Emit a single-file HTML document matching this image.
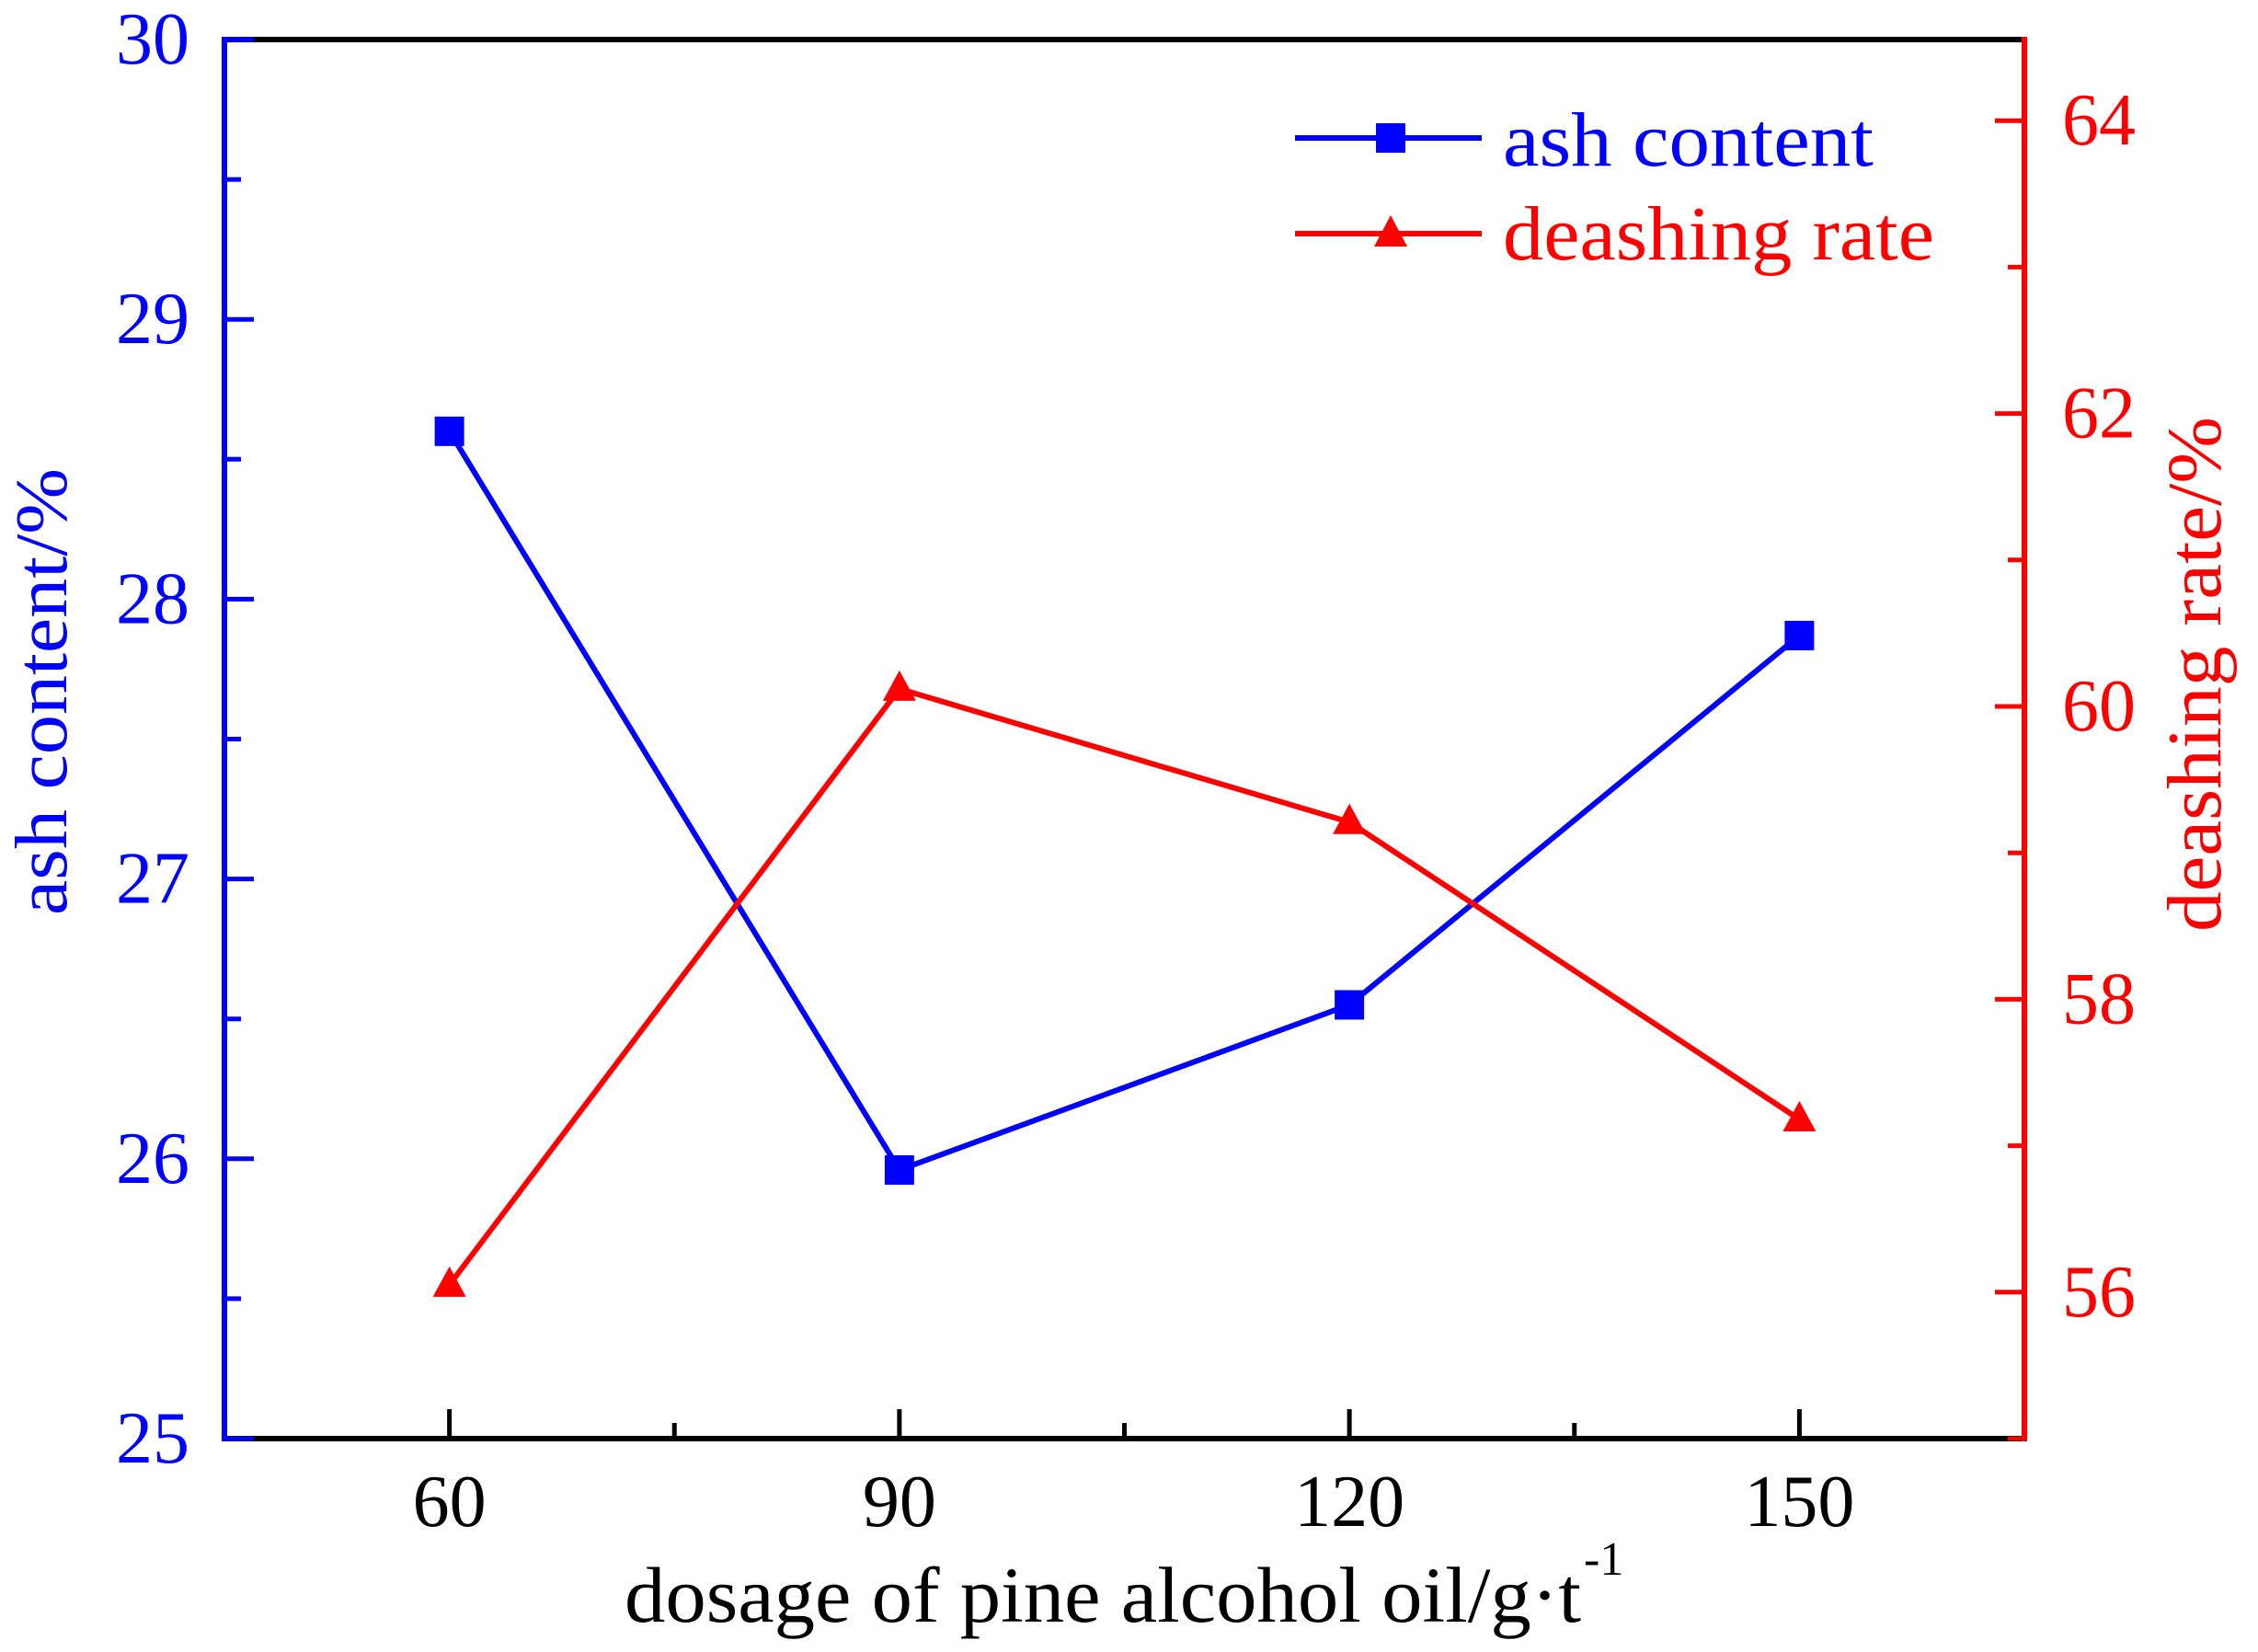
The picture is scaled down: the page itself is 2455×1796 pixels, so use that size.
<!DOCTYPE html>
<html><head><meta charset="utf-8"><style>
html,body{margin:0;padding:0;background:#fff}
svg{display:block}
text{font-family:"Liberation Serif",serif}
</style></head><body>
<svg id="chart" width="2455" height="1796" viewBox="0 0 2455 1796" xmlns="http://www.w3.org/2000/svg"></svg>
<script>
const categories = [60, 90, 120, 150];
const ashContent = [28.60, 25.96, 26.55, 27.87];
const deashingRate = [56.05, 60.12, 59.21, 57.18];
const xTickLabels = ["60", "90", "120", "150"];
const leftTickLabels = ["25", "26", "27", "28", "29", "30"];
const rightTickLabels = ["56", "58", "60", "62", "64"];

const L = 244, R = 2201, T = 43, B = 1564;
const xS = v => L + (v - 45) * (R - L) / 120;
const yL = v => B - (v - 25) * (B - T) / 5;
const yR = v => B - (v - 55) * 159.2;
const svg = document.getElementById('chart');
const NS = 'http://www.w3.org/2000/svg';
function mk(tag, attrs, parent) {
  const e = document.createElementNS(NS, tag);
  for (const k in attrs) e.setAttribute(k, attrs[k]);
  (parent || svg).appendChild(e);
  return e;
}
function txt(s, attrs, name) {
  const e = mk('text', attrs);
  e.textContent = s;
  
  
  return e;
}
let e;
e = mk('line', {x1: L, y1: T, x2: R, y2: T, stroke: '#000', 'stroke-width': 6});
 
e = mk('line', {x1: L, y1: B, x2: R, y2: B, stroke: '#000', 'stroke-width': 6});
 
e = mk('line', {x1: L, y1: T - 3, x2: L, y2: B + 3, stroke: '#0000ff', 'stroke-width': 6});
 
e = mk('line', {x1: R, y1: T - 3, x2: R, y2: B + 3, stroke: '#ff0000', 'stroke-width': 6});
 

categories.forEach((c, i) => {
  const t = mk('line', {x1: xS(c), y1: B, x2: xS(c), y2: B - 32, stroke: '#000', 'stroke-width': 5});
   
  txt(xTickLabels[i], {x: xS(c), y: 1659, 'font-size': 80, 'text-anchor': 'middle', fill: '#000'}, 'x-tick-label');
});
[75, 105, 135].forEach(c => {
  const t = mk('line', {x1: xS(c), y1: B, x2: xS(c), y2: B - 17, stroke: '#000', 'stroke-width': 5});
   
});
leftTickLabels.forEach(s => {
  const v = +s;
  const t = mk('line', {x1: L, y1: yL(v), x2: L + 32, y2: yL(v), stroke: '#0000ff', 'stroke-width': 5});
   
  txt(s, {x: 206, y: yL(v) + 26, 'font-size': 80, 'text-anchor': 'end', fill: '#0000ff'}, 'left-y-tick-label');
  if (v < 30) {
    const m = mk('line', {x1: L, y1: yL(v + 0.5), x2: L + 18, y2: yL(v + 0.5), stroke: '#0000ff', 'stroke-width': 5});
     
  }
});
rightTickLabels.forEach(s => {
  const v = +s;
  const t = mk('line', {x1: R, y1: yR(v), x2: R - 32, y2: yR(v), stroke: '#ff0000', 'stroke-width': 5});
   
  txt(s, {x: 2242, y: yR(v) + 26, 'font-size': 80, fill: '#ff0000'}, 'right-y-tick-label');
  const m = mk('line', {x1: R, y1: yR(v - 1), x2: R - 18, y2: yR(v - 1), stroke: '#ff0000', 'stroke-width': 5});
   
});
const ashPts = categories.map((c, i) => xS(c) + ',' + yL(ashContent[i])).join(' ');
e = mk('polyline', {points: ashPts, fill: 'none', stroke: '#0000ff', 'stroke-width': 6});
 
const drPts = categories.map((c, i) => xS(c) + ',' + yR(deashingRate[i])).join(' ');
e = mk('polyline', {points: drPts, fill: 'none', stroke: '#ff0000', 'stroke-width': 6});
 
categories.forEach((c, i) => {
  const x = xS(c), y = yL(ashContent[i]);
  const s = mk('rect', {x: x - 16, y: y - 16, width: 32, height: 32, fill: '#0000ff'});
   
  const yr = yR(deashingRate[i]);
  const p = mk('polygon', {points: `${x},${yr - 20} ${x + 18},${yr + 13} ${x - 18},${yr + 13}`, fill: '#ff0000'});
   
});
e = mk('line', {x1: 1408, y1: 150, x2: 1611, y2: 150, stroke: '#0000ff', 'stroke-width': 6});
 
e = mk('rect', {x: 1496, y: 134, width: 32, height: 32, fill: '#0000ff'});
 
txt('ash content', {x: 1634, y: 180, 'font-size': 84, fill: '#0000ff', textLength: 403, lengthAdjust: 'spacingAndGlyphs'}, 'legend-ash-label');
e = mk('line', {x1: 1408, y1: 254, x2: 1611, y2: 254, stroke: '#ff0000', 'stroke-width': 6});
 
e = mk('polygon', {points: '1512,234 1530,268 1494,268', fill: '#ff0000'});
 
txt('deashing rate', {x: 1634, y: 282, 'font-size': 84, fill: '#ff0000', textLength: 469, lengthAdjust: 'spacingAndGlyphs'}, 'legend-deashing-label');
txt('dosage of pine alcohol oil/g·t', {x: 679, y: 1763, 'font-size': 86, fill: '#000', textLength: 1040, lengthAdjust: 'spacingAndGlyphs'}, 'x-axis-title');
txt('-1', {x: 1722, y: 1712, 'font-size': 52, fill: '#000'}, 'x-axis-title-superscript');
txt('ash content/%', {x: 0, y: 0, 'font-size': 80, fill: '#0000ff', 'text-anchor': 'middle', textLength: 486, lengthAdjust: 'spacingAndGlyphs', transform: 'translate(72,752) rotate(-90)'}, 'left-y-axis-title');
txt('deashing rate/%', {x: 0, y: 0, 'font-size': 84, fill: '#ff0000', 'text-anchor': 'middle', textLength: 560, lengthAdjust: 'spacingAndGlyphs', transform: 'translate(2414,733) rotate(-90)'}, 'right-y-axis-title');
</script>
</body></html>
